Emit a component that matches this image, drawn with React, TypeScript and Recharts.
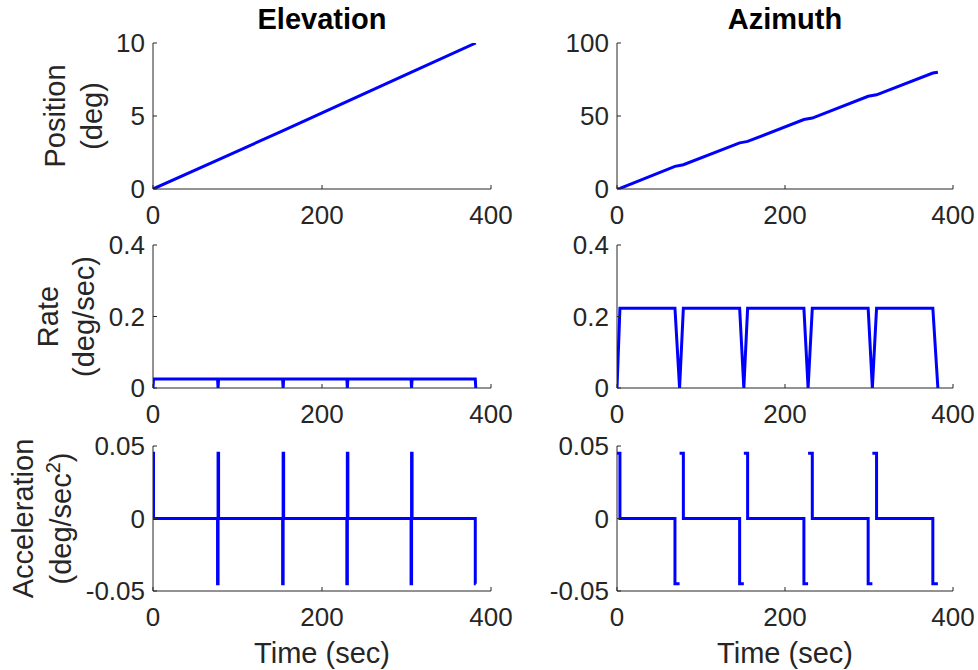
import React from 'react';
import { LineChart, Line, XAxis, YAxis } from 'recharts';

// time axis
const xTicks = [0, 200, 400];

// Elevation
const elPosT = [0, 77, 154, 230, 306, 382];
const elPosV = [0, 2, 4, 6, 8, 10];

const elRateT = [0, 0.6, 76.4, 77, 77.6, 153.4, 154, 154.6, 229.4, 230, 230.6, 305.4, 306, 306.6, 381.4, 382];
const elRateV = [0, 0.025, 0.025, 0, 0.025, 0.025, 0, 0.025, 0.025, 0, 0.025, 0.025, 0, 0.025, 0.025, 0];

const elAccT = [
  0, 0.6, 0.6, 76.4, 76.4, 77, 77, 77.6, 77.6, 153.4, 153.4, 154, 154, 154.6, 154.6,
  229.4, 229.4, 230, 230, 230.6, 230.6, 305.4, 305.4, 306, 306, 306.6, 306.6, 381.4, 381.4, 382,
];
const elAccV = [
  0.045, 0.045, 0, 0, -0.045, -0.045, 0.045, 0.045, 0, 0, -0.045, -0.045, 0.045, 0.045, 0,
  0, -0.045, -0.045, 0.045, 0.045, 0, 0, -0.045, -0.045, 0.045, 0.045, 0, 0, -0.045, -0.045,
];

// Azimuth
const azPosT = [0, 3.5, 69, 74.5, 79, 146, 151, 155.5, 222.5, 227.5, 232.5, 299, 304, 309, 376, 382];
const azPosV = [0, 0.4, 15.5, 16.1, 16.6, 31.6, 32.1, 32.6, 47.6, 48.1, 48.6, 63.5, 64, 64.5, 79.4, 80];

const azRateT = [0, 3.5, 69, 74.5, 79, 146, 151, 155.5, 222.5, 227.5, 232.5, 299, 304, 309, 376, 382];
const azRateV = [0, 0.223, 0.223, 0, 0.223, 0.223, 0, 0.223, 0.223, 0, 0.223, 0.223, 0, 0.223, 0.223, 0];

const azAccT = [
  0, 3.5, 3.5, 69, 69, 74.5, 74.5, 74.5, 79, 79,
  146, 146, 151, 151, 151, 155.5, 155.5,
  222.5, 222.5, 227.5, 227.5, 227.5, 232.5, 232.5,
  299, 299, 304, 304, 304, 309, 309,
  376, 376, 382,
];
const azAccV = [
  0.045, 0.045, 0, 0, -0.045, -0.045, null, 0.045, 0.045, 0,
  0, -0.045, -0.045, null, 0.045, 0.045, 0,
  0, -0.045, -0.045, null, 0.045, 0.045, 0,
  0, -0.045, -0.045, null, 0.045, 0.045, 0,
  0, -0.045, -0.045,
];

// y axes
const posTicksEl = [0, 5, 10];
const posTicksAz = [0, 50, 100];
const rateTicks = [0, 0.2, 0.4];
const accTicks = [-0.05, 0, 0.05];

const AXIS = '#262626';
const BLUE = '#0000ff';
const FONT = '"Liberation Sans", Arial, Helvetica, sans-serif';
const TICK_FS = 26;
const LABEL_FS = 29;

const zip = (t: number[], v: (number | null)[]) => t.map((tt, i) => ({ t: tt, v: v[i] }));

const XTick = ({ x, y, payload }: any) => (
  <g>
    <line x1={x} y1={y} x2={x} y2={y - 4} stroke={AXIS} strokeWidth={1} />
    <text x={x} y={y + 35} textAnchor="middle" fontSize={TICK_FS} fontFamily={FONT} fill={AXIS}>
      {String(payload.value)}
    </text>
  </g>
);

const YTick = ({ x, y, payload }: any) => (
  <g>
    <line x1={x} y1={y} x2={x + 4} y2={y} stroke={AXIS} strokeWidth={1} />
    <text x={x - 8} y={y} dy="0.35em" textAnchor="end" fontSize={TICK_FS} fontFamily={FONT} fill={AXIS}>
      {String(payload.value)}
    </text>
  </g>
);

interface PanelProps {
  data: { t: number; v: number | null }[];
  yDomain: [number, number];
  yTicks: number[];
  x: number;
  y: number;
  w: number;
  h: number;
}

function Panel({ data, yDomain, yTicks, x, y, w, h }: PanelProps) {
  const padL = 90;
  const padT = 26;
  const padR = 30;
  const padB = 50;
  return (
    <div style={{ position: 'absolute', left: x - padL, top: y - padT }}>
      <LineChart
        width={w + padL + padR}
        height={h + padT + padB}
        data={data}
        margin={{ top: padT, right: padR, bottom: 0, left: 0 }}
      >
        <XAxis
          dataKey="t"
          type="number"
          domain={[0, 400]}
          ticks={xTicks}
          interval={0}
          height={padB}
          tickLine={false}
          tickSize={0}
          tickMargin={0}
          axisLine={{ stroke: AXIS, strokeWidth: 1 }}
          tick={(p: any) => <XTick {...p} />}
          allowDataOverflow
        />
        <YAxis
          type="number"
          domain={yDomain}
          ticks={yTicks}
          interval={0}
          width={padL}
          tickLine={false}
          tickSize={0}
          tickMargin={0}
          axisLine={{ stroke: AXIS, strokeWidth: 1 }}
          tick={(p: any) => <YTick {...p} />}
          allowDataOverflow
        />
        <Line
          type="linear"
          dataKey="v"
          stroke={BLUE}
          strokeWidth={3}
          dot={false}
          activeDot={false}
          connectNulls={false}
          isAnimationActive={false}
        />
      </LineChart>
    </div>
  );
}

const COL_X = [153, 617];
const COL_W = [338, 336];
const ROW_Y = [43, 245, 446];
const ROW_H = [146, 143, 145];

export default function App() {
  const cx = [COL_X[0] + COL_W[0] / 2, COL_X[1] + COL_W[1] / 2];
  const yl = (row: number) => ROW_Y[row] + ROW_H[row] / 2;
  const labelStyle = { fontSize: LABEL_FS, fontFamily: FONT, fill: AXIS };

  return (
    <div style={{ position: 'absolute', left: 0, top: 0, width: 978, height: 670, background: '#fff' }}>
      <Panel data={zip(elPosT, elPosV)} yDomain={[0, 10]} yTicks={posTicksEl} x={COL_X[0]} y={ROW_Y[0]} w={COL_W[0]} h={ROW_H[0]} />
      <Panel data={zip(azPosT, azPosV)} yDomain={[0, 100]} yTicks={posTicksAz} x={COL_X[1]} y={ROW_Y[0]} w={COL_W[1]} h={ROW_H[0]} />
      <Panel data={zip(elRateT, elRateV)} yDomain={[0, 0.4]} yTicks={rateTicks} x={COL_X[0]} y={ROW_Y[1]} w={COL_W[0]} h={ROW_H[1]} />
      <Panel data={zip(azRateT, azRateV)} yDomain={[0, 0.4]} yTicks={rateTicks} x={COL_X[1]} y={ROW_Y[1]} w={COL_W[1]} h={ROW_H[1]} />
      <Panel data={zip(elAccT, elAccV)} yDomain={[-0.05, 0.05]} yTicks={accTicks} x={COL_X[0]} y={ROW_Y[2]} w={COL_W[0]} h={ROW_H[2]} />
      <Panel data={zip(azAccT, azAccV)} yDomain={[-0.05, 0.05]} yTicks={accTicks} x={COL_X[1]} y={ROW_Y[2]} w={COL_W[1]} h={ROW_H[2]} />

      <svg width={978} height={670} style={{ position: 'absolute', left: 0, top: 0, pointerEvents: 'none' }}>
        <text x={cx[0]} y={29} textAnchor="middle" fontSize={LABEL_FS} fontWeight="bold" fontFamily={FONT} fill="#000">Elevation</text>
        <text x={cx[1]} y={29} textAnchor="middle" fontSize={LABEL_FS} fontWeight="bold" fontFamily={FONT} fill="#000">Azimuth</text>

        <text x={cx[0]} y={663} textAnchor="middle" {...labelStyle}>Time (sec)</text>
        <text x={cx[1]} y={663} textAnchor="middle" {...labelStyle}>Time (sec)</text>

        <g transform={`translate(65, ${yl(0)}) rotate(-90)`}>
          <text x={0} y={0} textAnchor="middle" {...labelStyle}>Position</text>
        </g>
        <g transform={`translate(102, ${yl(0)}) rotate(-90)`}>
          <text x={0} y={0} textAnchor="middle" {...labelStyle}>(deg)</text>
        </g>

        <g transform={`translate(58, ${yl(1)}) rotate(-90)`}>
          <text x={0} y={0} textAnchor="middle" {...labelStyle}>Rate</text>
        </g>
        <g transform={`translate(94, ${yl(1)}) rotate(-90)`}>
          <text x={0} y={0} textAnchor="middle" {...labelStyle}>(deg/sec)</text>
        </g>

        <g transform={`translate(33, ${yl(2)}) rotate(-90)`}>
          <text x={0} y={0} textAnchor="middle" {...labelStyle}>Acceleration</text>
        </g>
        <g transform={`translate(71, ${yl(2)}) rotate(-90)`}>
          <text x={0} y={0} textAnchor="middle" {...labelStyle}>
            (deg/sec<tspan dy={-11} fontSize={20}>2</tspan><tspan dy={11}>)</tspan>
          </text>
        </g>
      </svg>
    </div>
  );
}
